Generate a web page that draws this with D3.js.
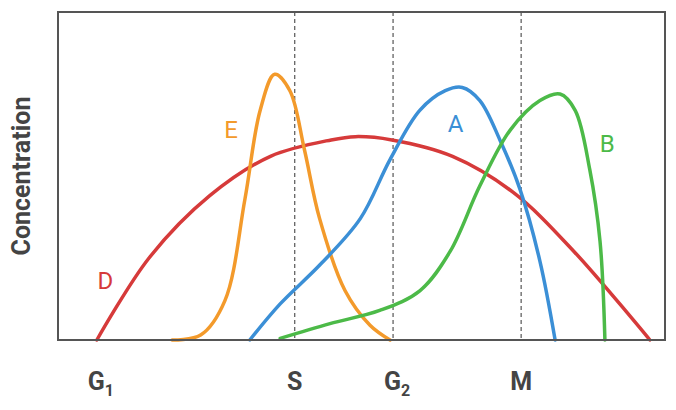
<!DOCTYPE html>
<html><head><meta charset="utf-8">
<script src="https://cdn.jsdelivr.net/npm/d3@7"></script>
<style>body{margin:0;background:#fff}</style>
</head><body>
<div id="chart"></div>
<script>
// cell-cycle position (0..100) and concentration (0..100)
const phases = ["G1", "S", "G2", "M"];
const phaseX = [6.4, 39.0, 55.2, 76.3];
const dashedX = [39.0, 55.2, 76.3];

const seriesD = [[6.4,0],[15,25],[25,44],[35,56],[45,61],[49,62],[55,61],[65,56],[75,45],[85,27],[97.5,0]];
const seriesE = [[18.8,0],[23.5,1.5],[27.5,12],[30.8,43],[33.3,70],[35.7,81],[38.2,76],[40.6,58],[43.1,37],[47.3,15],[51.4,4.5],[54.7,0]];
const seriesA = [[31.6,0],[36.6,11],[43.2,23],[49.8,37],[54.7,55],[59.6,70],[63.8,76],[66.6,77],[69.5,73],[72.8,61],[76.1,46],[79.4,24],[81.9,0]];
const seriesB = [[36.6,0.5],[44.8,5],[53.0,9],[59.6,15],[64.6,27],[69.5,47],[74.5,64],[79.4,73],[82.7,75],[85.2,70],[87.6,52],[89.3,30],[90.1,0]];

const curves = [
  {name: "D", data: seriesD, color: "#d63a3a", lx: 7.8, ly: 18},
  {name: "E", data: seriesE, color: "#f39a2b", lx: 28.5, ly: 64},
  {name: "A", data: seriesA, color: "#3b8fd6", lx: 65.5, ly: 66},
  {name: "B", data: seriesB, color: "#4cba48", lx: 90.5, ly: 60}
];

const width = 676, height = 410;
const mLeft = 58, mRight = 665, mTop = 12, mBottom = 340;

const svg = d3.select("#chart").append("svg")
  .attr("width", width).attr("height", height)
  .style("font-family", "Roboto, 'Noto Sans', sans-serif");

const x = d3.scaleLinear().domain([0, 100]).range([mLeft, mRight]);
const y = d3.scaleLinear().domain([0, 100]).range([mBottom, mTop]);

svg.append("g").selectAll("line").data(dashedX).join("line")
  .attr("x1", d => x(d)).attr("x2", d => x(d))
  .attr("y1", mTop).attr("y2", mBottom)
  .attr("stroke", "#555").attr("stroke-width", 1.2)
  .attr("stroke-dasharray", "4,3");

const line = d3.line().x(d => x(d[0])).y(d => y(d[1])).curve(d3.curveCatmullRom.alpha(0.5));

svg.append("g").selectAll("path").data(curves).join("path")
  .attr("d", d => line(d.data))
  .attr("fill", "none").attr("stroke", d => d.color)
  .attr("stroke-width", 3.5).attr("stroke-linecap", "round");

svg.append("g").selectAll("text").data(curves).join("text")
  .attr("x", d => x(d.lx)).attr("y", d => y(d.ly))
  .attr("text-anchor", "middle").attr("dy", "0.35em")
  .attr("font-size", 24).attr("fill", d => d.color)
  .text(d => d.name);

svg.append("rect")
  .attr("x", mLeft).attr("y", mTop)
  .attr("width", mRight - mLeft).attr("height", mBottom - mTop)
  .attr("fill", "none").attr("stroke", "#555").attr("stroke-width", 2);

// phase labels
const lab = svg.append("g").selectAll("text").data(phases).join("text")
  .attr("x", (d, i) => x(phaseX[i]) + (d.length > 1 ? 4 : 0))
  .attr("y", 390).attr("text-anchor", "middle")
  .attr("font-size", 25).attr("font-weight", "bold").attr("fill", "#444");
lab.each(function(d) {
  const t = d3.select(this);
  t.append("tspan").text(d[0]);
  if (d.length > 1) t.append("tspan").attr("font-size", 16).attr("dy", 6).text(d.slice(1));
});

svg.append("text")
  .attr("transform", `translate(30,${(mTop + mBottom) / 2}) rotate(-90)`)
  .attr("text-anchor", "middle")
  .attr("font-size", 25).attr("font-weight", "bold").attr("fill", "#444")
  .text("Concentration");
</script>
</body></html>
